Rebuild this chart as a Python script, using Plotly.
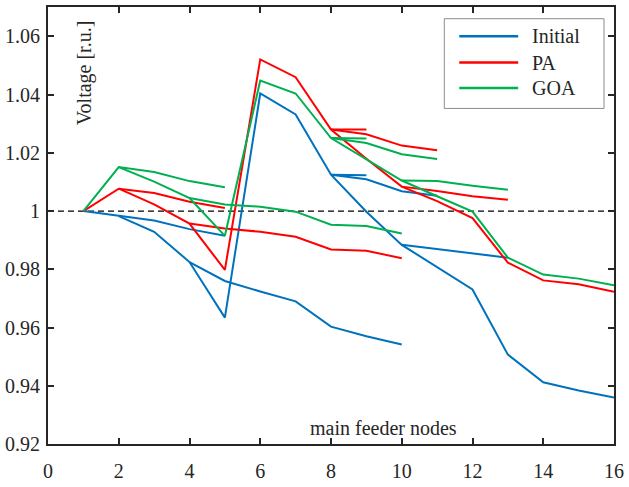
import plotly.graph_objects as go

# ---------------- data ----------------
# node index along main feeder (None separates branches)
initial_x = [1, 2, 3, 4, 5, None,
             2, 3, 4, 5, 6, 7, 8, 9, 10, 11, 12, 13, 14, 15, 16, None,
             4, 5, 6, 7, 8, 9, 10, None,
             8, 9, None,
             8, 9, 10, 11, None,
             10, 11, 12, 13]
initial_v = [1.0, 0.9983, 0.9968, 0.9938, 0.9915, None,
             0.9983, 0.9929, 0.9825, 0.9634, 1.0404, 1.0332, 1.0125, 0.9998, 0.9884, 0.9808, 0.9731, 0.9507, 0.9412, 0.9384, 0.9360, None,
             0.9825, 0.9760, 0.9724, 0.9690, 0.9603, 0.9570, 0.9542, None,
             1.0125, 1.0123, None,
             1.0125, 1.0109, 1.0068, 1.0053, None,
             0.9884, 0.9869, 0.9854, 0.9840]

pa_x = [1, 2, 3, 4, 5, None,
        2, 3, 4, 5, 6, 7, 8, 9, 10, 11, 12, 13, 14, 15, 16, None,
        4, 5, 6, 7, 8, 9, 10, None,
        8, 9, None,
        8, 9, 10, 11, None,
        10, 11, 12, 13]
pa_v = [1.0, 1.0077, 1.0062, 1.0032, 1.0011, None,
        1.0077, 1.0023, 0.9957, 0.9798, 1.0521, 1.0460, 1.0280, 1.0180, 1.0084, 1.0034, 0.9976, 0.9823, 0.9762, 0.9749, 0.9723, None,
        0.9957, 0.9940, 0.9929, 0.9912, 0.9868, 0.9864, 0.9838, None,
        1.0280, 1.0280, None,
        1.0280, 1.0264, 1.0225, 1.0209, None,
        1.0084, 1.0069, 1.0051, 1.0039]

goa_x = [1, 2, 3, 4, 5, None,
         2, 3, 4, 5, 6, 7, 8, 9, 10, 11, 12, 13, 14, 15, 16, None,
         4, 5, 6, 7, 8, 9, 10, None,
         8, 9, None,
         8, 9, 10, 11, None,
         10, 11, 12, 13]
goa_v = [1.0, 1.0151, 1.0134, 1.0103, 1.0082, None,
         1.0151, 1.0101, 1.0045, 0.9915, 1.0448, 1.0404, 1.0251, 1.0177, 1.0105, 1.0051, 0.9998, 0.9840, 0.9782, 0.9768, 0.9745, None,
         1.0045, 1.0023, 1.0015, 0.9998, 0.9953, 0.9949, 0.9923, None,
         1.0251, 1.0249, None,
         1.0251, 1.0234, 1.0195, 1.0179, None,
         1.0105, 1.0103, 1.0087, 1.0073]

ref_voltage = 1.0

x_ticks = [0, 2, 4, 6, 8, 10, 12, 14, 16]
y_ticks = [0.92, 0.94, 0.96, 0.98, 1.0, 1.02, 1.04, 1.06]
y_tick_text = ["0.92", "0.94", "0.96", "0.98", "1", "1.02", "1.04", "1.06"]

series_names = ["Initial", "PA", "GOA"]
series_colors = ["#0072BD", "#FF0000", "#00B050"]

# ---------------- figure ----------------
FONT = "Liberation Serif"
TXT = "#262626"
W, H = 629, 487
ML, MR, MT, MB = 47, 15, 5, 34
PW, PH = W - ML - MR, H - MT - MB


def px_x(p):  # pixel -> paper x
    return (p - ML) / PW


def px_y(p):  # pixel -> paper y
    return (H - MB - p) / PH


fig = go.Figure()

fig.add_hline(y=ref_voltage, line=dict(color="black", width=1.2, dash="6px,4px"), layer="below")

for name, xs, vs, col in zip(series_names, [initial_x, pa_x, goa_x],
                             [initial_v, pa_v, goa_v], series_colors):
    fig.add_trace(go.Scatter(x=xs, y=vs, mode="lines", name=name,
                             line=dict(color=col, width=2),
                             connectgaps=False, showlegend=False))

axis_common = dict(showgrid=False, zeroline=False, showline=True, linecolor=TXT,
                   linewidth=2, mirror="ticks", ticks="inside", ticklen=6,
                   tickwidth=1.5, tickcolor=TXT,
                   tickfont=dict(family=FONT, size=20, color=TXT))

fig.update_xaxes(range=[0, 16], tickvals=x_ticks, ticklabelstandoff=8, **axis_common)
fig.update_yaxes(range=[0.92, 1.0701], tickvals=y_ticks, ticktext=y_tick_text,
                 ticklabelstandoff=2, **axis_common)

fig.add_annotation(text="Voltage [r.u.]", textangle=-90, xref="paper", yref="paper",
                   x=px_x(83), y=px_y(72), xanchor="center", yanchor="middle",
                   showarrow=False, font=dict(family=FONT, size=20, color=TXT))
fig.add_annotation(text="main feeder nodes", xref="paper", yref="paper",
                   x=px_x(383), y=px_y(437), xanchor="center", yanchor="middle",
                   showarrow=False, font=dict(family=FONT, size=20, color=TXT))

# legend box (drawn manually to match the reference layout)
fig.add_shape(type="rect", xref="paper", yref="paper",
              x0=px_x(444), x1=px_x(604), y0=px_y(109), y1=px_y(17),
              line=dict(color="#8c8c8c", width=1), fillcolor="white", layer="above")
legend_rows = [35, 62, 88]
for name, col, ry in zip(series_names, series_colors, legend_rows):
    fig.add_shape(type="line", xref="paper", yref="paper",
                  x0=px_x(459), x1=px_x(518), y0=px_y(ry), y1=px_y(ry),
                  line=dict(color=col, width=2.5), layer="above")
    fig.add_annotation(text=name, xref="paper", yref="paper",
                       x=px_x(530), y=px_y(ry), xanchor="left", yanchor="middle",
                       showarrow=False, font=dict(family=FONT, size=20, color=TXT))

fig.update_layout(
    width=W, height=H,
    margin=dict(l=ML, r=MR, t=MT, b=MB, pad=0),
    paper_bgcolor="white", plot_bgcolor="white",
    showlegend=False,
)

fig.write_html("out.html")
